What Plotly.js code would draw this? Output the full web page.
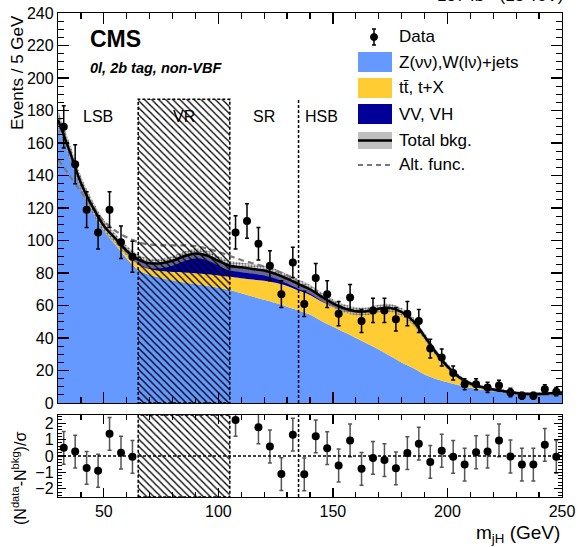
<!DOCTYPE html>
<html><head><meta charset="utf-8">
<script src="https://cdn.plot.ly/plotly-3.0.1.min.js"></script>
<style>html,body{margin:0;padding:0;background:#fff}#chart{width:579px;height:547px}</style>
</head><body><div id="chart"></div>
<script>
// ---- data ----
const massPoints = [30,35,40,45,50,55,60,65,70,75,80,85,90,95,100,105,110,115,120,125,130,135,140,145,150,155,160,165,170,175,180,185,190,195,200,205,210,215,220,225,230,235,240,245,250];
const zwJets = [173,153.5,133,118.5,106,97.5,89,82,78.8,77,75.5,74.2,73.2,72.2,71,69.5,67.5,65.5,63.5,61.5,59.3,57,54.5,50.5,47,43.5,40,36.5,33,29,25,21.5,17.5,14.8,12.8,11,9.4,8.2,7.3,6.6,5.9,5.4,5.2,5.4,5.8];
const ttbar = [1,1.5,2,2,2.5,3,3.2,3.3,3.7,4.2,5.1,6.1,6.6,7,7.5,8.2,9.3,10.5,11.7,12.5,12.7,12.2,12,12,12.3,13.2,15.5,19.5,24.7,29.3,30.9,28.9,23.5,16.2,9.7,5,2.6,1.6,1,0.6,0.3,0.2,0.4,0.6,0.7];
const dibosonVH = [0.3,0.3,0.4,0.5,0.6,0.8,1.5,3,3.5,4.8,6.9,10,12.2,11.6,9,6.8,6.7,6.5,6.3,5.5,4.5,4,3.5,3,2,1.5,1,0.5,0.3,0.2,0.1,0.1,0,0,0,0,0,0,0,0,0,0,0,0,0];
const bkgUnc = [6,5,4.5,4,3.5,3,3,3,3,3,3,3,3,3,3,3,3,3,3,3,3,3,2.8,2.7,2.6,2.5,2.5,2.5,2.5,2.5,2.5,2.5,2.2,2,1.8,1.5,1.3,1.2,1.1,1,1,1,1,1,1.2];
const altFunc = [150,140,130,121,112,106,102,99,97.5,97,97,97,96.5,95,93,90.5,88,86,84,81.5,78.5,74.5,70,66,62,58.5,57,57,58,58.5,56,50.5,41,31,22.5,16,12,9.7,8.1,7,6,5.3,5,4.9,4.9];

const dataX = [32.5,37.5,42.5,47.5,52.5,57.5,62.5,107.5,112.5,117.5,122.5,127.5,132.5,137.5,142.5,147.5,152.5,157.5,162.5,167.5,172.5,177.5,182.5,187.5,192.5,197.5,202.5,207.5,212.5,217.5,222.5,227.5,232.5,237.5,242.5,247.5];
const dataY = [170,147,119,105,119,99,90,105,112,98,84.5,67,86.5,61,77,67,55,65,50.5,57,57,51.5,55,50.5,33.5,28,18.5,11.5,11.5,9.6,10.7,6.5,4.5,4.5,8.4,7];
const dataErr = [13,12,11,10.3,11,10,9.5,10.3,10.6,10,9.2,8.2,9.3,7.8,8.8,8.2,7.4,8,7.1,7.5,7.5,7.2,7.4,7.1,5.8,5.3,4.3,3.4,3.4,3.1,3.3,2.6,2.1,2.1,2.9,2.6];
const pulls = [0.5,0.27,-0.73,-0.9,1.35,0.2,-0.05,2.2,null,1.75,0.58,-1.1,1.3,-1.12,1.2,0.48,-0.58,0.95,-0.78,-0.12,-0.25,-0.75,0.18,0.75,-0.36,0.32,-0.05,-0.52,0.23,0.27,0.95,-0.03,-0.52,-0.52,0.68,-0.05];

const regionNames = ['LSB','VR','SR','HSB'];
const regionCenters = [47.5,85,120,145];
const vrEdges = [65,105];
const hsbEdge = 135;
const boxTop = 187;
const xRange = [30,250];
const pullRange = [-2.5,2.5];

// ---- derived ----
const total = massPoints.map((_, i) => zwJets[i] + ttbar[i] + dibosonVH[i]);
const bandUp = total.map((t, i) => t + bkgUnc[i]);
const bandLo = total.map((t, i) => t - bkgUnc[i]);

const FONT = 'Liberation Sans, Arial, Helvetica, sans-serif';
const spl = {shape:'spline', smoothing:0.9, width:0};
const hatch = {shape:'\\', fgcolor:'black', bgcolor:'rgba(0,0,0,0)', size:5, solidity:0.26};

const traces = [
  {x:massPoints, y:zwJets, stackgroup:'bkg', mode:'lines', fillcolor:'#6699ff', line:Object.assign({}, spl, {color:'#6699ff'}), name:'Z(νν),W(lν)+jets', hoverinfo:'skip'},
  {x:massPoints, y:ttbar, stackgroup:'bkg', mode:'lines', fillcolor:'#ffcc33', line:Object.assign({}, spl, {color:'#ffcc33'}), name:'tt̄, t+X', hoverinfo:'skip'},
  {x:massPoints, y:dibosonVH, stackgroup:'bkg', mode:'lines', fillcolor:'#000099', line:Object.assign({}, spl, {color:'#000099'}), name:'VV, VH', hoverinfo:'skip'},
  {x:massPoints, y:bandLo, mode:'lines', line:{width:0, shape:'spline', smoothing:0.9}, hoverinfo:'skip'},
  {x:massPoints, y:bandUp, mode:'lines', fill:'tonexty', fillcolor:'rgba(185,185,185,0.55)',
   fillpattern:{shape:'.', fgcolor:'#6a6a6a', bgcolor:'rgba(205,205,205,0.5)', size:3, solidity:0.45},
   line:{width:0, shape:'spline', smoothing:0.9}, name:'Total bkg.', hoverinfo:'skip'},
  {x:massPoints, y:altFunc, mode:'lines', line:{color:'#787878', width:2.2, dash:'6px,4px', shape:'spline', smoothing:0.9}, name:'Alt. func.'},
  {x:massPoints, y:total, mode:'lines', line:{color:'black', width:2.5, shape:'spline', smoothing:0.9}, name:'Total'},
  {x:[vrEdges[0],vrEdges[1],vrEdges[1],vrEdges[0],vrEdges[0]], y:[0,0,boxTop,boxTop,0], mode:'lines', fill:'toself',
   fillcolor:'rgba(0,0,0,0)', fillpattern:hatch,
   line:{color:'black', width:1.5, dash:'3px,2px'}, hoverinfo:'skip'},
  {x:dataX, y:dataY, mode:'markers', marker:{color:'black', size:8},
   error_y:{type:'data', array:dataErr, color:'black', thickness:1.5, width:2}, name:'Data'},
  // ratio panel
  {x:[vrEdges[0],vrEdges[1],vrEdges[1],vrEdges[0],vrEdges[0]], y:[pullRange[0],pullRange[0],pullRange[1],pullRange[1],pullRange[0]],
   xaxis:'x2', yaxis:'y2', mode:'lines', fill:'toself', fillcolor:'rgba(0,0,0,0)',
   fillpattern:hatch,
   line:{color:'black', width:1.5, dash:'3px,2px'}, hoverinfo:'skip'},
  {x:dataX, y:pulls, xaxis:'x2', yaxis:'y2', mode:'markers', marker:{color:'black', size:8},
   error_y:{type:'constant', value:1, color:'#555', thickness:1.5, width:2}}
];

// pixel -> paper helpers (plot area: x 58..562, y 13..497)
const PX = p => (p - 58) / 504;
const PY = p => (497 - p) / 484;

const axCommon = {showline:true, linecolor:'black', linewidth:1.2, mirror:'allticks', ticks:'inside',
  showgrid:false, zeroline:false, tickcolor:'black', tickwidth:1.2, tickfont:{size:16, family:FONT}};

const shapes = [
  {type:'line', xref:'x', yref:'y', x0:hsbEdge, x1:hsbEdge, y0:0, y1:boxTop, line:{color:'black', width:1.5, dash:'3px,2px'}},
  {type:'line', xref:'x2', yref:'y2', x0:hsbEdge, x1:hsbEdge, y0:pullRange[0], y1:pullRange[1], line:{color:'black', width:1.5, dash:'3px,2px'}},
  {type:'line', xref:'x2', yref:'y2', x0:xRange[0], x1:xRange[1], y0:0, y1:0, line:{color:'black', width:1.5, dash:'3px,2px'}},
  // legend
  {type:'line', xref:'paper', yref:'paper', x0:PX(374), x1:PX(374), y0:PY(29), y1:PY(45), line:{color:'black', width:1.5}},
  {type:'line', xref:'paper', yref:'paper', x0:PX(372), x1:PX(376), y0:PY(29), y1:PY(29), line:{color:'black', width:1.5}},
  {type:'line', xref:'paper', yref:'paper', x0:PX(372), x1:PX(376), y0:PY(45), y1:PY(45), line:{color:'black', width:1.5}},
  {type:'circle', xref:'paper', yref:'paper', x0:PX(370.5), x1:PX(377.5), y0:PY(33.5), y1:PY(40.5), fillcolor:'black', line:{color:'black', width:1}},
  {type:'rect', xref:'paper', yref:'paper', x0:PX(358), x1:PX(392), y0:PY(72), y1:PY(52), fillcolor:'#6699ff', line:{width:0}},
  {type:'rect', xref:'paper', yref:'paper', x0:PX(358), x1:PX(392), y0:PY(98), y1:PY(78), fillcolor:'#ffcc33', line:{width:0}},
  {type:'rect', xref:'paper', yref:'paper', x0:PX(358), x1:PX(392), y0:PY(124), y1:PY(104), fillcolor:'#000099', line:{width:0}},
  {type:'rect', xref:'paper', yref:'paper', x0:PX(358), x1:PX(392), y0:PY(149), y1:PY(132), fillcolor:'rgba(165,165,165,0.7)', line:{width:0}},
  {type:'line', xref:'paper', yref:'paper', x0:PX(358), x1:PX(392), y0:PY(140.5), y1:PY(140.5), line:{color:'black', width:2.5}},
  {type:'line', xref:'paper', yref:'paper', x0:PX(358), x1:PX(392), y0:PY(165), y1:PY(165), line:{color:'#787878', width:2, dash:'5px,4px'}}
];

const legendRows = [['Data',37],['Z(νν),W(lν)+jets',62],['tt\u0304, t+X',88],['VV, VH',114],['Total bkg.',140.5],['Alt. func.',165]];
const annotations = [];
legendRows.forEach(r => annotations.push({xref:'paper', yref:'paper', x:PX(397), y:PY(r[1]), xanchor:'left', yanchor:'middle',
  text:r[0], showarrow:false, font:{size:17, family:FONT, color:'black'}}));
regionNames.forEach((n, i) => annotations.push({xref:'x', yref:'y', x:regionCenters[i], y:176.5, text:n, showarrow:false,
  xanchor:'center', yanchor:'middle', font:{size:16, family:FONT, color:'black'}}));
annotations.push(
  {xref:'paper', yref:'paper', x:PX(88), y:PY(39), xanchor:'left', yanchor:'middle', showarrow:false,
   text:'<b>CMS</b>', font:{size:23, family:FONT, color:'black'}},
  {xref:'paper', yref:'paper', x:PX(88), y:PY(68), xanchor:'left', yanchor:'middle', showarrow:false,
   text:'<b><i>0l, 2b tag, non-VBF</i></b>', font:{size:14.5, family:FONT, color:'black'}},
  {xref:'paper', yref:'paper', x:PX(566), y:PY(7), xanchor:'right', yanchor:'bottom', showarrow:false,
   text:'137 fb<sup>-1</sup> (13 TeV)', font:{size:17, family:FONT, color:'black'}},
  {xref:'paper', yref:'paper', x:PX(17), y:PY(73), xanchor:'center', yanchor:'middle', showarrow:false, textangle:-90,
   text:'Events / 5 GeV', font:{size:17, family:FONT, color:'black'}},
  {xref:'paper', yref:'paper', x:PX(19), y:PY(479), xanchor:'center', yanchor:'middle', showarrow:false, textangle:-90,
   text:'(N<sup>data</sup>-N<sup>bkg</sup>)/σ', font:{size:16, family:FONT, color:'black'}},
  {xref:'paper', yref:'paper', x:1, y:PY(534), xanchor:'right', yanchor:'middle', showarrow:false,
   text:'m<sub>jH</sub> (GeV)', font:{size:19, family:FONT, color:'black'}}
);

const layout = {
  width:579, height:547, margin:{l:58, r:17, t:13, b:50},
  paper_bgcolor:'white', plot_bgcolor:'white', showlegend:false,
  font:{family:FONT, size:16, color:'black'},
  xaxis:Object.assign({}, axCommon, {domain:[0,1], anchor:'y', range:xRange, tick0:0, dtick:50, ticklen:11,
    showticklabels:false, minor:{dtick:10, ticklen:6, ticks:'inside', tickcolor:'black', tickwidth:1.2}}),
  yaxis:Object.assign({}, axCommon, {domain:[0.1942,1], anchor:'x', range:[0,240], tick0:0, dtick:20, ticklen:11,
    minor:{dtick:5, ticklen:6, ticks:'inside', tickcolor:'black', tickwidth:1.2}}),
  xaxis2:Object.assign({}, axCommon, {domain:[0,1], anchor:'y2', range:xRange, tick0:0, dtick:50, ticklen:9,
    minor:{dtick:10, ticklen:5, ticks:'inside', tickcolor:'black', tickwidth:1.2}}),
  yaxis2:Object.assign({}, axCommon, {domain:[0,0.1694], anchor:'x2', range:pullRange, tick0:0, dtick:1, ticklen:8,
    minor:{dtick:0.2, ticklen:4, ticks:'inside', tickcolor:'black', tickwidth:1}}),
  shapes:shapes, annotations:annotations
};

Plotly.newPlot('chart', traces, layout, {staticPlot:true, displayModeBar:false});
</script></body></html>
